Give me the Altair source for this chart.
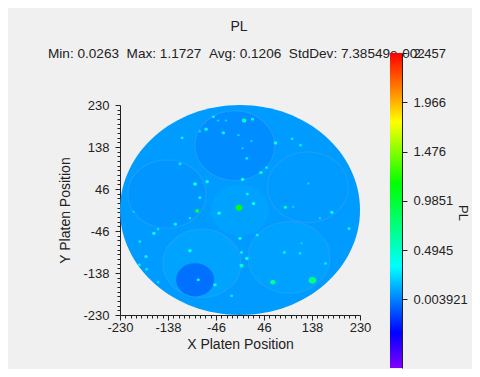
import altair as alt
import pandas as pd

BG = "#f0f0f0"
INK = "#222222"
FONT = "Liberation Sans"
W, H = 464, 361

major = [-230, -138, -46, 46, 138, 230]
minor = [a + (b - a) * k / 9 for a, b in zip(major[:-1], major[1:]) for k in range(1, 9)]
bar_ticks = [0.003921, 0.4945, 0.9851, 1.476, 1.966, 2.457]
bar_low, bar_high = -0.68, 2.457

color_values = [-0.68, -0.33, 0.33, 0.72, 1.16, 1.77, 2.1, 2.457]
color_names = ["#8000ff", "#0000ff", "#00ffff", "#00ff80", "#00ff00", "#ffff00", "#ff8000", "#ff0000"]

wafer_x, wafer_y, wafer_d, wafer_v = [0], [0], [460], [0.07]

pocket_x = [-10, 130, 94, -73, -140, 0]
pocket_y = [141, 50, -104, -117, 35, 0]
pocket_d = [153, 155, 157, 150, 150, 112]
pocket_v = [0.035, 0.07, 0.09, 0.095, 0.055, 0.09]
spot_x, spot_y, spot_d, spot_v = [-86], [-153], [73], [-0.04]

dot_x = [-2, -82, 139, 63, 87, 8, -51, 24, -65, -32, 68, 100, 116, -111, -115, 13, 40, 5, -63, -86, -77, -40, 14, 26,
         -124, -165, -192, -180, -193, -179, -96, -80, -48, 3, 13, 3, 0, 33, 85, 115, 118, 164, 209, 176, 131, -157,
         -16, -204, -157, -96, 102, 51, 5, 22, -3, -77, -42, -27, 153]
dot_y = [5, -2, -154, -158, 6, 196, 204, 199, 177, 169, 147, 156, 142, 158, 101, 113, 82, 67, 62, 57, 27, -7, 35, 14,
         -31, -51, -69, -102, -120, -130, -89, -153, -164, -122, -106, -93, -62, -55, -93, -95, -73, -117, -41, -5, 58, -158,
         -188, -4, -42, -18, 7, 93, 135, 151, 164, 172, 196, 196, -18]
dot_d = [13, 8, 15, 10, 7, 9, 6, 6, 7, 7, 7, 6, 6, 6, 6, 6, 7, 7, 7, 8, 6, 7, 6, 7,
         7, 7, 6, 7, 6, 6, 7, 6, 7, 8, 7, 6, 7, 6, 6, 6, 5, 6, 6, 7, 5, 5,
         6, 5, 5, 5, 5, 6, 5, 5, 5, 5, 5, 5, 5]
dot_v = [1.1, 0.9, 0.7, 0.65, 0.6, 0.5, 0.3, 0.3, 0.3, 0.3, 0.36, 0.27, 0.27, 0.3, 0.27, 0.27, 0.5, 0.36, 0.36, 0.42, 0.3, 0.36, 0.3, 0.36,
         0.3, 0.36, 0.27, 0.3, 0.3, 0.27, 0.36, 0.36, 0.4, 0.5, 0.36, 0.3, 0.36, 0.3, 0.3, 0.27, 0.22, 0.27, 0.3, 0.36, 0.22, 0.27,
         0.27, 0.22, 0.27, 0.27, 0.22, 0.27, 0.22, 0.22, 0.22, 0.22, 0.22, 0.22, 0.22]

x_scale = alt.Scale(domain=[-230, 230], range=[112, 352], nice=False, zero=False)
y_scale = alt.Scale(domain=[-230, 230], range=[307, 97], nice=False, zero=False)
size_scale = alt.Scale(type="pow", exponent=2, domain=[0, 460], range=[0, 57600])
color_scale = alt.Scale(domain=color_values, range=color_names, interpolate="rgb", clamp=True)
ELLIPSE = "M-1,0A1,0.875,0,1,1,1,0A1,0.875,0,1,1,-1,0Z"

x_none = alt.X("x:Q", scale=x_scale, axis=None)
y_none = alt.Y("y:Q", scale=y_scale, axis=None)
size_enc = alt.Size("d:Q", scale=size_scale, legend=None)
color_enc = alt.Color("v:Q", scale=color_scale, legend=None)


def table(xs, ys, ds, vs):
    return pd.DataFrame({"x": xs, "y": ys, "d": ds, "v": vs})


def blobs(xs, ys, ds, vs):
    return alt.Chart(table(xs, ys, ds, vs)).mark_point(shape=ELLIPSE, filled=True, opacity=1, strokeWidth=0).encode(
        x=x_none, y=y_none, size=size_enc, color=color_enc)


wafer = blobs(wafer_x, wafer_y, wafer_d, wafer_v)
pockets = blobs(pocket_x, pocket_y, pocket_d, pocket_v)
rings = alt.Chart(table(pocket_x[:5], pocket_y[:5], pocket_d[:5], pocket_v[:5])).mark_point(
    shape=ELLIPSE, filled=False, opacity=0.55, strokeWidth=1.2, stroke="#2fa4fb").encode(
    x=x_none, y=y_none, size=size_enc)
spot = blobs(spot_x, spot_y, spot_d, spot_v)
dots = blobs(dot_x, dot_y, dot_d, dot_v)


def axis_common(**kw):
    base = dict(domainColor=INK, tickColor=INK, labelColor=INK, titleColor=INK, labelFont=FONT, titleFont=FONT,
                labelFontSize=13, titleFontSize=14, titleFontWeight="normal", grid=False, tickWidth=1, domainWidth=1,
                labelFlush=False, labelOverlap=False, labelBound=False)
    base.update(kw)
    return alt.Axis(**base)


HYPHEN = "replace(format(datum.value, 'd'), '\u2212', '-')"

axes_major = alt.Chart(pd.DataFrame({"x": major, "y": major})).mark_point(opacity=0).encode(
    x=alt.X("x:Q", scale=x_scale, axis=axis_common(
        values=major, orient="bottom", offset=307 - H, tickSize=5, labelPadding=1, labelExpr=HYPHEN,
        title="X Platen Position", titleX=232, titleY=22, titleAnchor="middle")),
    y=alt.Y("y:Q", scale=y_scale, axis=axis_common(
        values=major, orient="left", offset=-112, tickSize=5, labelPadding=6, labelExpr=HYPHEN,
        title="Y Platen Position", titleX=-48, titleY=202, titleAnchor="middle")),
)

axes_minor = alt.Chart(pd.DataFrame({"x": minor, "y": minor})).mark_point(opacity=0).encode(
    x=alt.X("x:Q", scale=x_scale, axis=alt.Axis(
        values=minor, orient="bottom", offset=307 - H, tickSize=3, labels=False, domain=False, grid=False,
        title=None, tickColor=INK)),
    y=alt.Y("y:Q", scale=y_scale, axis=alt.Axis(
        values=minor, orient="left", offset=-112, tickSize=3, labels=False, domain=False, grid=False,
        title=None, tickColor=INK)),
)

stops = [alt.GradientStop(offset=(bar_high - v) / (bar_high - bar_low), color=c)
         for v, c in zip(reversed(color_values), reversed(color_names))]
bar_scale = alt.Scale(domain=[bar_low, bar_high], range=[360, 45], nice=False, zero=False)
colorbar = alt.Chart(pd.DataFrame({"low": [bar_low], "high": [bar_high]})).mark_rect(
    color=alt.LinearGradient(gradient="linear", x1=0, x2=0, y1=0, y2=1, stops=stops)
).encode(x=alt.value(382), x2=alt.value(394), y=alt.Y("low:Q", scale=bar_scale, axis=None), y2="high:Q")

bar_axis = alt.Chart(pd.DataFrame({"t": bar_ticks})).mark_point(opacity=0).encode(
    x=alt.value(388),
    y=alt.Y("t:Q", scale=bar_scale, axis=axis_common(
        values=bar_ticks, orient="right", offset=394 - W, tickSize=5, labelPadding=6,
        labelExpr="'' + datum.value", title=None)),
)


def label(text, px, py, size=13, angle=0, align="center"):
    return alt.Chart(pd.DataFrame({"t": [text]})).mark_text(
        font=FONT, fontSize=size, color=INK, angle=angle, align=align, baseline="middle"
    ).encode(x=alt.value(px), y=alt.value(py), text="t:N")


GAP = "\u00a0\u00a0"
title = label("PL", 231, 19, size=14)
stats = label("Min: 0.0263" + GAP + "Max: 1.1727" + GAP + "Avg: 0.1206" + GAP + "StdDev: 7.38549e-002",
              40, 46, size=13.6, align="left")
bar_title = label("PL", 455, 205, angle=90)

chart = alt.layer(
    wafer, pockets, rings, spot, dots, axes_minor, axes_major, stats, colorbar, bar_axis, title, bar_title
).resolve_scale(x="independent", y="independent", color="shared", size="shared").properties(
    width=W, height=H, background=BG, padding=0,
    autosize=alt.AutoSizeParams(type="none"),
).configure_view(stroke=None)

chart.save("out.html", embed_options={"renderer": "svg", "actions": False})
